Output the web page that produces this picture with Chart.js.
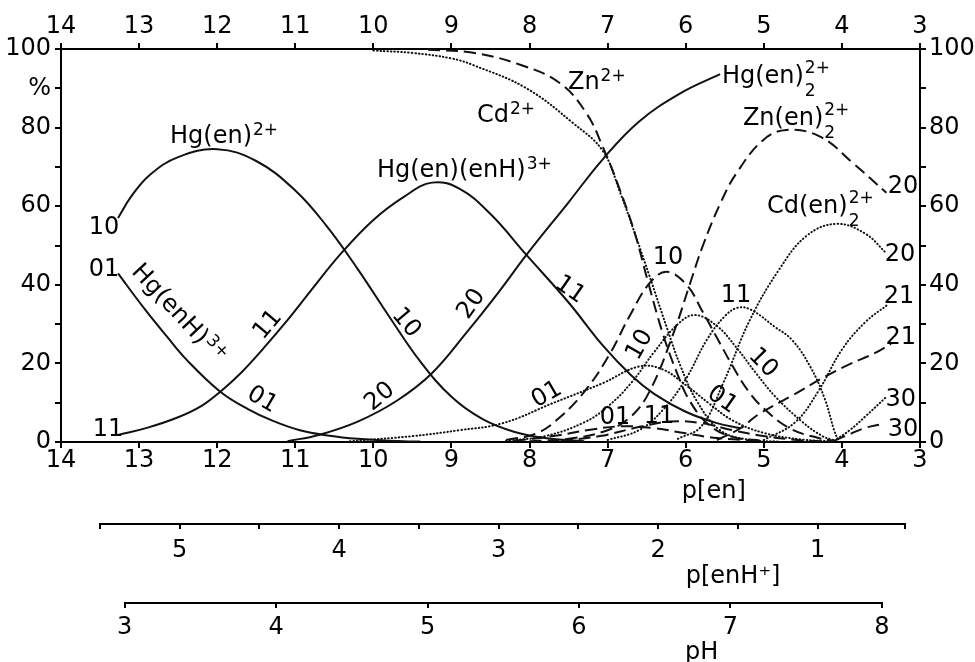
<!DOCTYPE html>
<html>
<head>
<meta charset="utf-8">
<script src="https://cdn.jsdelivr.net/npm/chart.js@4.4.1/dist/chart.umd.min.js"></script>
<style>
  html, body { margin: 0; padding: 0; background: #fff; }
  #wrap { width: 975px; height: 662px; }
</style>
</head>
<body>
<div id="wrap"><canvas id="c"></canvas></div>
<script>
// [p[en], %]
// Hg system (solid)
const hg01 = [[13.27,42.9],[12.95,34.4],[12.65,27],[12.39,20.9],[11.96,12.8],[11.6,8.3],[11.3,5.5],[10.94,3],[10.56,1.6],[10.2,0.8],[9.8,0.3],[9.4,0.1]];
const hg10 = [[13.27,57],[13.1,62.5],[12.86,68],[12.5,72.5],[12.0,74.5],[11.5,71.5],[11.0,64],[10.6,55],[10.2,44],[9.8,32],[9.4,20.5],[9.0,11.5],[8.6,5.8],[8.2,2.6],[7.8,1],[7.3,0.2]];
const hg11 = [[13.27,1.8],[12.9,3.6],[12.5,6.3],[12.2,9.2],[11.96,12.8],[11.7,17.5],[11.4,24],[11.1,31],[10.8,38.5],[10.43,47.6],[10.0,56.5],[9.6,62.5],[9.25,66],[8.9,64.5],[8.5,58],[8.04,47.6],[7.5,35.5],[7.06,24.5],[6.7,17],[6.4,12.2],[6.0,7.7],[5.6,4.8],[5.3,3.5]];
const hg20 = [[11.1,0.2],[10.7,1.8],[10.2,5.2],[9.7,10.5],[9.25,17.5],[8.8,28],[8.4,38],[8.04,47.6],[7.5,61],[7.06,72],[6.6,81.5],[6.07,88.7],[5.56,93.6]];
// Zn system (dashed)
const zn00 = [[9.3,99.8],[8.74,99.1],[8.12,96],[7.61,91.3],[7.27,83.6],[7.06,75],[6.84,64],[6.65,53],[6.5,42],[6.3,28],[6.12,18],[5.95,10.5],[5.7,4.3],[5.4,1.3],[5.0,0.3]];
const zn10 = [[8.3,0.5],[7.91,2.2],[7.6,6.5],[7.27,13.5],[6.97,22.5],[6.72,32],[6.46,40.5],[6.24,43.3],[5.99,40],[5.78,33],[5.6,26.5],[5.37,18.3],[5.2,13],[5.0,8.5],[4.67,3.5],[4.3,1],[4.1,0.3]];
const zn20 = [[8.0,0.2],[7.5,0.8],[7.0,3],[6.7,6.5],[6.46,13],[6.16,27.5],[5.95,40],[5.78,50],[5.55,61],[5.35,68.4],[5.01,76.8],[4.71,79.4],[4.28,77.7],[3.86,71],[3.43,63.4]];
const zn01 = [[8.2,0.3],[7.7,1.5],[7.2,3.2],[6.8,4],[6.4,3.5],[6.0,2.2],[5.6,1],[5.1,0.3]];
const zn11 = [[7.6,0.3],[7.1,1.5],[6.6,3.8],[6.2,5.2],[5.8,4.8],[5.4,3],[5.0,1.5],[4.5,0.4],[4.1,0.1]];
const zn21 = [[5.6,0.5],[5.3,3.5],[5.07,7],[4.62,12],[4.22,16.6],[3.9,19.8],[3.58,22.6],[3.37,25]];
const zn30 = [[4.1,0.3],[3.9,2],[3.7,3.6],[3.5,4.5]];
// Cd system (dotted)
const cd00 = [[10.0,99.6],[9.5,99],[9.0,97.6],[8.72,95.9],[8.04,90],[7.44,81.1],[7.06,74],[6.84,63.5],[6.65,53],[6.46,42],[6.24,29],[6.07,19.5],[5.86,10.5],[5.56,3],[5.2,0.6],[4.8,0.1]];
const cd01 = [[10.3,0.2],[9.5,1.5],[8.9,3],[8.34,4.8],[7.7,9.9],[7.06,15],[6.6,19.2],[6.3,18.5],[6.0,14.5],[5.7,9.8],[5.4,5.5],[5.0,2.3],[4.5,0.6],[4.1,0.2]];
const cd10 = [[8.3,0.3],[7.8,1.5],[7.3,5],[7.0,9],[6.7,15],[6.4,23],[6.1,30],[5.88,32.3],[5.6,29.5],[5.35,24],[5.1,17.5],[4.85,11.5],[4.5,5],[4.25,1.5],[4.1,0.4]];
const cd11 = [[7.0,0.5],[6.6,3],[6.3,8],[6.0,16],[5.73,26],[5.5,32],[5.33,34.2],[5.16,33.6],[4.86,29.3],[4.64,26],[4.4,19],[4.22,11],[4.1,3],[4.05,0.5]];
const cd20 = [[6.1,0.8],[5.8,4],[5.52,15],[5.18,31],[4.8,44],[4.45,52.5],[4.07,55.5],[3.7,53],[3.43,48]];
const cd21 = [[5.0,0.5],[4.6,5],[4.3,13],[4.0,23.5],[3.7,30.5],[3.41,35]];
const cd30 = [[4.1,0.3],[3.9,3],[3.7,6.5],[3.43,11.5]];

// axes
const penTicks = [14,13,12,11,10,9,8,7,6,5,4,3];
const enHTicks = [5.5,5,4.5,4,3.5,3,2.5,2,1.5,1,0.45];
const enHLabels = ['','5','','4','','3','','2','','1',''];
const pHTicks = [3,4,5,6,7,8];
const yTicks = [0,10,20,30,40,50,60,70,80,90,100];
const yLabelsLeft = ['0','','20','','40','','60','','80','%','100'];
const yLabelsRight = ['0','','20','','40','','60','','80','','100'];

// curve names: [text, sub, sup, p[en], %, rotation]
const formulaLabels = [
  ['Hg(en)', '', '2+', 12.604, 76.1, 0],
  ['Hg(en)(enH)', '', '3+', 9.954, 67.4, 0],
  ['Cd', '', '2+', 8.673, 81.4, 0],
  ['Zn', '', '2+', 7.508, 89.8, 0],
  ['Hg(en)', '2', '2+', 5.537, 91.3, 0],
  ['Zn(en)', '2', '2+', 5.268, 80.7, 0],
  ['Cd(en)', '2', '2+', 4.96, 58.3, 0]
];
const rotatedFormula = ['Hg(enH)', '3+', 12.476, 33.1, 47];
// curve codes: [text, p[en], %, rotation]
const codeLabels = [
  ['10', 13.449, 54.5, 0], ['01', 13.449, 43.8, 0], ['11', 13.398, 3.05, 0],
  ['11', 11.35, 29.8, -50], ['01', 11.426, 10.7, 30], ['10', 9.583, 30.3, 50],
  ['20', 9.915, 11.5, -40], ['20', 8.74, 35.1, -55], ['11', 7.483, 38.7, 35],
  ['01', 7.777, 12.0, -30], ['10', 6.586, 24.7, -60], ['10', 6.228, 46.8, 0],
  ['01', 6.907, 6.1, 0], ['11', 6.343, 6.4, 0], ['11', 5.357, 37.2, 0],
  ['10', 5.012, 20.1, 45], ['01', 5.536, 10.7, 35],
  ['20', 3.219, 64.9, 0], ['20', 3.257, 47.6, 0], ['21', 3.27, 36.9, 0],
  ['21', 3.245, 26.5, 0], ['30', 3.245, 10.7, 0], ['30', 3.219, 3.05, 0]
];

const FONT = '"DejaVu Sans", sans-serif';
const solid = { borderDash: [], borderWidth: 2 };
const dashed = { borderDash: [12, 6], borderWidth: 2 };
const dotted = { borderDash: [0.5, 3], borderWidth: 2, borderCapStyle: 'round' };

const series = [
  [hg01, solid], [hg10, solid], [hg11, solid], [hg20, solid],
  [zn00, dashed], [zn10, dashed], [zn20, dashed], [zn01, dashed], [zn11, dashed], [zn21, dashed], [zn30, dashed],
  [cd00, dotted], [cd01, dotted], [cd10, dotted], [cd11, dotted], [cd20, dotted], [cd21, dotted], [cd30, dotted]
];

function drawFormula(ctx, base, sub, sup, px, py, rot, centered) {
  ctx.save();
  ctx.translate(px, py);
  if (rot) ctx.rotate(rot * Math.PI / 180);
  ctx.fillStyle = '#000';
  ctx.textAlign = 'left';
  ctx.textBaseline = 'alphabetic';
  ctx.font = '24px ' + FONT;
  const wb = ctx.measureText(base).width;
  ctx.font = '17px ' + FONT;
  const ws = Math.max(sup ? ctx.measureText(sup).width : 0, sub ? ctx.measureText(sub).width : 0);
  let x0 = 0, y0 = 0;
  if (centered) { x0 = -(wb + ws) / 2; y0 = 9; }
  ctx.font = '24px ' + FONT;
  ctx.fillText(base, x0, y0);
  ctx.font = '17px ' + FONT;
  if (sup) ctx.fillText(sup, x0 + wb + 1, y0 - (sub ? 10 : 8));
  if (sub) ctx.fillText(sub, x0 + wb + 1, y0 + 13);
  ctx.restore();
}

const labelsPlugin = {
  id: 'labels',
  afterDatasetsDraw(chart) {
    const ctx = chart.ctx, sx = chart.scales.x, sy = chart.scales.y;
    formulaLabels.forEach(([t, sub, sup, p, v, r]) => {
      drawFormula(ctx, t, sub, sup, sx.getPixelForValue(p), sy.getPixelForValue(v), r, false);
    });
    const [rt, rs, rp, rv, rr] = rotatedFormula;
    drawFormula(ctx, rt, '', rs, sx.getPixelForValue(rp), sy.getPixelForValue(rv), rr, true);
    ctx.save();
    ctx.fillStyle = '#000';
    ctx.font = '24px ' + FONT;
    ctx.textAlign = 'center';
    ctx.textBaseline = 'middle';
    codeLabels.forEach(([t, p, v, r]) => {
      ctx.save();
      ctx.translate(sx.getPixelForValue(p), sy.getPixelForValue(v));
      ctx.rotate(r * Math.PI / 180);
      ctx.fillText(t, 0, 0);
      ctx.restore();
    });
    ctx.restore();
  },
  afterDraw(chart) {
    const ctx = chart.ctx;
    const sh = chart.scales.xH, sp = chart.scales.xpH, sx = chart.scales.x;
    ctx.save();
    ctx.strokeStyle = '#000';
    ctx.lineWidth = 2;
    ctx.beginPath();
    ctx.moveTo(sh.getPixelForValue(enHTicks[0]), sh.top + 1);
    ctx.lineTo(sh.getPixelForValue(enHTicks[enHTicks.length - 1]), sh.top + 1);
    ctx.moveTo(sp.getPixelForValue(pHTicks[0]), sp.top + 1);
    ctx.lineTo(sp.getPixelForValue(pHTicks[pHTicks.length - 1]), sp.top + 1);
    ctx.stroke();
    ctx.fillStyle = '#000';
    ctx.font = '24px ' + FONT;
    ctx.textAlign = 'center';
    ctx.textBaseline = 'alphabetic';
    ctx.fillText('p[en]', sx.getPixelForValue(5.64), 498);
    ctx.fillText('p[enH\u207A]', sh.getPixelForValue(1.53), 583);
    ctx.fillText('pH', sp.getPixelForValue(6.81), 659);
    ctx.restore();
  }
};

function axisBase(extra) {
  return Object.assign({
    type: 'linear',
    grid: { drawOnChartArea: false, color: '#000', lineWidth: 2, tickLength: 6 },
    border: { color: '#000', width: 2 }
  }, extra);
}
const tickFont = { family: FONT, size: 24 };

new Chart(document.getElementById('c'), {
  type: 'line',
  data: {
    datasets: series.map(([d, s]) => Object.assign({
      data: d.map(([x, y]) => ({ x, y })),
      borderColor: '#111',
      pointRadius: 0,
      fill: false,
      tension: 0.4
    }, s))
  },
  options: {
    responsive: true,
    maintainAspectRatio: false,
    devicePixelRatio: 1,
    animation: false,
    layout: { padding: 0 },
    plugins: { legend: { display: false }, tooltip: { enabled: false } },
    scales: {
      x: axisBase({
        position: 'bottom', min: 3, max: 14, reverse: true, weight: 0,
        afterBuildTicks: s => { s.ticks = penTicks.map(v => ({ value: v })); },
        ticks: { font: tickFont, color: '#000', padding: -2, maxRotation: 0, autoSkip: false, callback: v => String(v) },
        afterFit: s => { s.height = 81; }
      }),
      xH: axisBase({
        position: 'bottom', min: 0.358, max: 5.744, reverse: true, weight: 1,
        border: { display: false },
        afterBuildTicks: s => { s.ticks = enHTicks.map(v => ({ value: v })); },
        ticks: { font: tickFont, color: '#000', padding: 7, maxRotation: 0, autoSkip: false, callback: (v, i) => enHLabels[i] },
        afterFit: s => { s.height = 79; }
      }),
      xpH: axisBase({
        position: 'bottom', min: 2.579, max: 8.252, weight: 2,
        border: { display: false },
        afterBuildTicks: s => { s.ticks = pHTicks.map(v => ({ value: v })); },
        ticks: { font: tickFont, color: '#000', padding: 5, maxRotation: 0, autoSkip: false, callback: v => String(v) },
        afterFit: s => { s.height = 60; }
      }),
      xTop: axisBase({
        position: 'top', min: 3, max: 14, reverse: true,
        afterBuildTicks: s => { s.ticks = penTicks.map(v => ({ value: v })); },
        ticks: { font: tickFont, color: '#000', padding: 2, maxRotation: 0, autoSkip: false, callback: v => String(v) },
        afterFit: s => { s.height = 49; }
      }),
      y: axisBase({
        position: 'left', min: 0, max: 100,
        afterBuildTicks: s => { s.ticks = yTicks.map(v => ({ value: v })); },
        ticks: { font: tickFont, color: '#000', padding: 4, callback: (v, i) => yLabelsLeft[i] },
        afterFit: s => { s.width = 61; }
      }),
      yR: axisBase({
        position: 'right', min: 0, max: 100,
        afterBuildTicks: s => { s.ticks = yTicks.map(v => ({ value: v })); },
        ticks: { font: tickFont, color: '#000', padding: 3, callback: (v, i) => yLabelsRight[i] },
        afterFit: s => { s.width = 55; }
      })
    }
  },
  plugins: [labelsPlugin]
});
</script>
</body>
</html>
